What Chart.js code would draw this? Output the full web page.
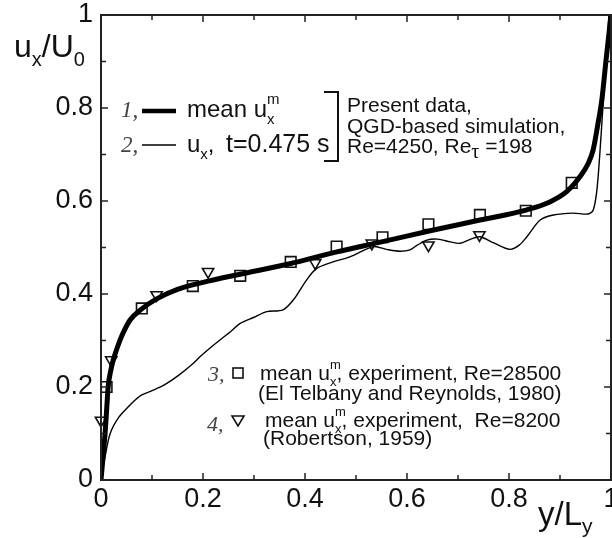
<!DOCTYPE html>
<html><head><meta charset="utf-8">
<script src="https://cdn.jsdelivr.net/npm/chart.js@4.4.1/dist/chart.umd.min.js"></script>
<style>html,body{margin:0;padding:0;background:#fff}#wrap{width:612px;height:538px}</style>
</head><body><div id="wrap"><canvas id="c" width="612" height="538"></canvas></div>
<script>
// Series 1: mean u_x^m (thick line)
const meanX = [0, 0.004, 0.008, 0.011, 0.014, 0.02, 0.024, 0.032, 0.04, 0.057, 0.08, 0.11, 0.15, 0.2, 0.27, 0.37, 0.46, 0.55, 0.65, 0.743, 0.835, 0.88, 0.913, 0.939, 0.955, 0.965, 0.975, 0.982, 0.99, 1.0];
const meanY = [0, 0.05, 0.1, 0.15, 0.2, 0.24, 0.258, 0.285, 0.308, 0.344, 0.368, 0.39, 0.41, 0.425, 0.442, 0.465, 0.49, 0.512, 0.537, 0.559, 0.581, 0.598, 0.62, 0.652, 0.68, 0.71, 0.77, 0.817, 0.9, 1.0];
// Series 2: instantaneous u_x, t=0.475 s (thin line)
const instX = [0, 0.008, 0.018, 0.035, 0.054, 0.067, 0.08, 0.1, 0.125, 0.152, 0.18, 0.194, 0.215, 0.233, 0.255, 0.273, 0.3, 0.325, 0.357, 0.377, 0.403, 0.423, 0.455, 0.488, 0.534, 0.56, 0.586, 0.606, 0.62, 0.639, 0.66, 0.685, 0.704, 0.725, 0.743, 0.77, 0.802, 0.82, 0.835, 0.861, 0.887, 0.926, 0.955, 0.965, 0.972, 0.978, 0.984, 0.99, 0.996];
const instY = [0, 0.05, 0.1, 0.135, 0.158, 0.172, 0.183, 0.192, 0.205, 0.225, 0.25, 0.265, 0.285, 0.301, 0.32, 0.337, 0.35, 0.362, 0.366, 0.387, 0.43, 0.455, 0.469, 0.48, 0.502, 0.496, 0.492, 0.495, 0.505, 0.516, 0.518, 0.512, 0.509, 0.518, 0.523, 0.51, 0.496, 0.505, 0.523, 0.559, 0.57, 0.574, 0.572, 0.58, 0.62, 0.7, 0.8, 0.9, 1.0];
// Series 3: experiment, Re=28500 (El Telbany and Reynolds, 1980)
const telX = [0.011, 0.08, 0.18, 0.273, 0.372, 0.462, 0.552, 0.642, 0.743, 0.833, 0.923];
const telY = [0.2, 0.369, 0.417, 0.439, 0.469, 0.502, 0.522, 0.55, 0.57, 0.579, 0.639];
// Series 4: experiment, Re=8200 (Robertson, 1959)
const robX = [0.0, 0.02, 0.109, 0.21, 0.42, 0.531, 0.642, 0.742];
const robY = [0.128, 0.258, 0.398, 0.448, 0.467, 0.509, 0.505, 0.527];
// Axis ticks
const xTickStep = 0.2, yTickStep = 0.2, minorStep = 0.1;

const pts = (xs, ys) => xs.map((x, i) => ({x, y: ys[i]}));
const SANS = '"Liberation Sans", Arial, sans-serif';
const SERIF = '"Liberation Serif", "Times New Roman", serif';
const fmt = v => String(Math.round(v * 10) / 10);

function rich(ctx, x, y, parts) {
  let cx = x;
  for (const p of parts) {
    ctx.font = (p.style || '') + ' ' + p.size + 'px ' + (p.family || SANS);
    ctx.fillStyle = p.color || '#111';
    const px = (p.x !== undefined) ? p.x : cx;
    ctx.fillText(p.t, px, y + (p.dy || 0));
    const w = ctx.measureText(p.t).width;
    if (!p.noAdvance) cx = px + w;
  }
  return cx;
}

const decor = {
  id: 'decor',
  afterDraw(chart) {
    const ctx = chart.ctx, a = chart.chartArea;
    const xs = chart.scales.x, ys = chart.scales.y;
    ctx.save();
    ctx.strokeStyle = '#222';
    ctx.lineWidth = 2;
    ctx.strokeRect(a.left, a.top, a.right - a.left, a.bottom - a.top);
    ctx.lineWidth = 1.5;
    ctx.beginPath();
    for (let i = 0; i <= 10; i++) {
      const v = i * minorStep;
      const major = i % 2 === 0;
      const L = major ? 7 : 5;
      const px = xs.getPixelForValue(v), py = ys.getPixelForValue(v);
      ctx.moveTo(px, a.bottom); ctx.lineTo(px, a.bottom - L);
      ctx.moveTo(px, a.top); ctx.lineTo(px, a.top + L);
      ctx.moveTo(a.left, py); ctx.lineTo(a.left + L, py);
      ctx.moveTo(a.right, py); ctx.lineTo(a.right - L, py);
    }
    ctx.stroke();

    // x tick labels from the library's x scale ticks
    ctx.font = '27px ' + SANS;
    ctx.fillStyle = '#111';
    ctx.textAlign = 'center';
    ctx.textBaseline = 'alphabetic';
    for (const t of xs.ticks) {
      ctx.fillText(fmt(t.value), xs.getPixelForValue(t.value), a.bottom + 27);
    }

    ctx.textAlign = 'left';
    // axis titles
    rich(ctx, 14, 57, [
      {t: 'u', size: 32},
      {t: 'x', size: 20, dy: 9},
      {t: '/U', size: 32},
      {t: '0', size: 20, dy: 9}
    ]);
    rich(ctx, 538, 525, [
      {t: 'y/L', size: 33},
      {t: 'y', size: 21, dy: 8}
    ]);

    // upper legend
    const grey = '#444';
    rich(ctx, 121, 117, [{t: '1,', size: 23, style: 'italic', family: SERIF, color: grey}]);
    ctx.strokeStyle = '#000';
    ctx.lineWidth = 4.5;
    ctx.beginPath(); ctx.moveTo(142, 111); ctx.lineTo(176, 111); ctx.stroke();
    let e = rich(ctx, 187, 117, [{t: 'mean u', size: 24}]);
    rich(ctx, e, 117, [{t: 'm', size: 15, dy: -13, noAdvance: true}, {t: 'x', size: 15, dy: 7}]);

    rich(ctx, 121, 152, [{t: '2,', size: 23, style: 'italic', family: SERIF, color: grey}]);
    ctx.lineWidth = 1.5;
    ctx.beginPath(); ctx.moveTo(142, 145); ctx.lineTo(176, 145); ctx.stroke();
    e = rich(ctx, 187, 152, [{t: 'u', size: 24}, {t: 'x', size: 15, dy: 7}, {t: ',', size: 24}]);
    rich(ctx, 226, 152, [{t: 't=0.475 s', size: 25}]);

    // bracket
    ctx.lineWidth = 2;
    ctx.strokeStyle = '#111';
    ctx.beginPath(); ctx.moveTo(324, 92); ctx.lineTo(338, 92); ctx.lineTo(338, 161); ctx.lineTo(324, 161); ctx.stroke();

    rich(ctx, 347, 112, [{t: 'Present data,', size: 21}]);
    rich(ctx, 347, 133, [{t: 'QGD-based simulation,', size: 21}]);
    rich(ctx, 347, 153, [
      {t: 'Re=4250, Re', size: 21},
      {t: '\u03C4', size: 20, family: SERIF, dy: 5},
      {t: ' =198', size: 21}
    ]);

    // lower legend
    rich(ctx, 208, 381, [{t: '3,', size: 22, style: 'italic', family: SERIF, color: grey}]);
    ctx.lineWidth = 1.6; ctx.strokeStyle = '#111';
    ctx.strokeRect(233, 368, 10, 10);
    e = rich(ctx, 260, 380, [{t: 'mean u', size: 21}]);
    e = rich(ctx, e, 380, [{t: 'm', size: 13, dy: -11, noAdvance: true}, {t: 'x', size: 13, dy: 6}]);
    rich(ctx, e, 380, [{t: ', experiment, Re=28500', size: 21}]);
    rich(ctx, 258, 400, [{t: '(El Telbany and Reynolds, 1980)', size: 21}]);

    rich(ctx, 207, 431, [{t: '4,', size: 22, style: 'italic', family: SERIF, color: grey}]);
    ctx.beginPath(); ctx.moveTo(232, 416); ctx.lineTo(244, 416); ctx.lineTo(238, 426); ctx.closePath(); ctx.stroke();
    e = rich(ctx, 265, 427, [{t: 'mean u', size: 21}]);
    e = rich(ctx, e, 427, [{t: 'm', size: 13, dy: -11, noAdvance: true}, {t: 'x', size: 13, dy: 6}]);
    rich(ctx, e, 427, [{t: ', experiment,  Re=8200', size: 21}]);
    rich(ctx, 263, 445, [{t: '(Robertson, 1959)', size: 21}]);
    ctx.restore();
  }
};

const tickFont = {family: SANS, size: 27};
new Chart(document.getElementById('c'), {
  type: 'scatter',
  data: {
    datasets: [
      {label: 'mean', data: pts(meanX, meanY), showLine: true, borderColor: '#000', borderWidth: 5, pointRadius: 0, cubicInterpolationMode: 'monotone', fill: false},
      {label: 'inst', data: pts(instX, instY), showLine: true, borderColor: '#000', borderWidth: 1.4, pointRadius: 0, tension: 0.3, fill: false},
      {label: 'tel', data: pts(telX, telY), clip: false, pointStyle: 'rect', pointRadius: 7.5, borderColor: '#111', borderWidth: 1.6, backgroundColor: 'rgba(0,0,0,0)'},
      {label: 'rob', data: pts(robX, robY), clip: false, pointStyle: 'triangle', rotation: 180, pointRadius: 6.5, borderColor: '#111', borderWidth: 1.6, backgroundColor: 'rgba(0,0,0,0)'}
    ]
  },
  options: {
    responsive: false,
    animation: false,
    devicePixelRatio: 1,
    layout: {autoPadding: false, padding: {top: 15, right: 1, left: 0, bottom: 0}},
    plugins: {legend: {display: false}, tooltip: {enabled: false}},
    scales: {
      x: {
        type: 'linear', min: 0, max: 1,
        grid: {display: false, drawTicks: false}, border: {display: false},
        ticks: {display: false, stepSize: xTickStep},
        afterFit(s) { s.height = 58; s.paddingLeft = 0; s.paddingRight = 0; }
      },
      y: {
        type: 'linear', min: 0, max: 1,
        grid: {display: false, drawTicks: false}, border: {display: false},
        ticks: {stepSize: yTickStep, font: tickFont, color: '#111', padding: 8, callback: fmt},
        afterFit(s) { s.width = 101; s.paddingTop = 0; s.paddingBottom = 0; }
      }
    }
  },
  plugins: [decor]
});
</script>
</body></html>
